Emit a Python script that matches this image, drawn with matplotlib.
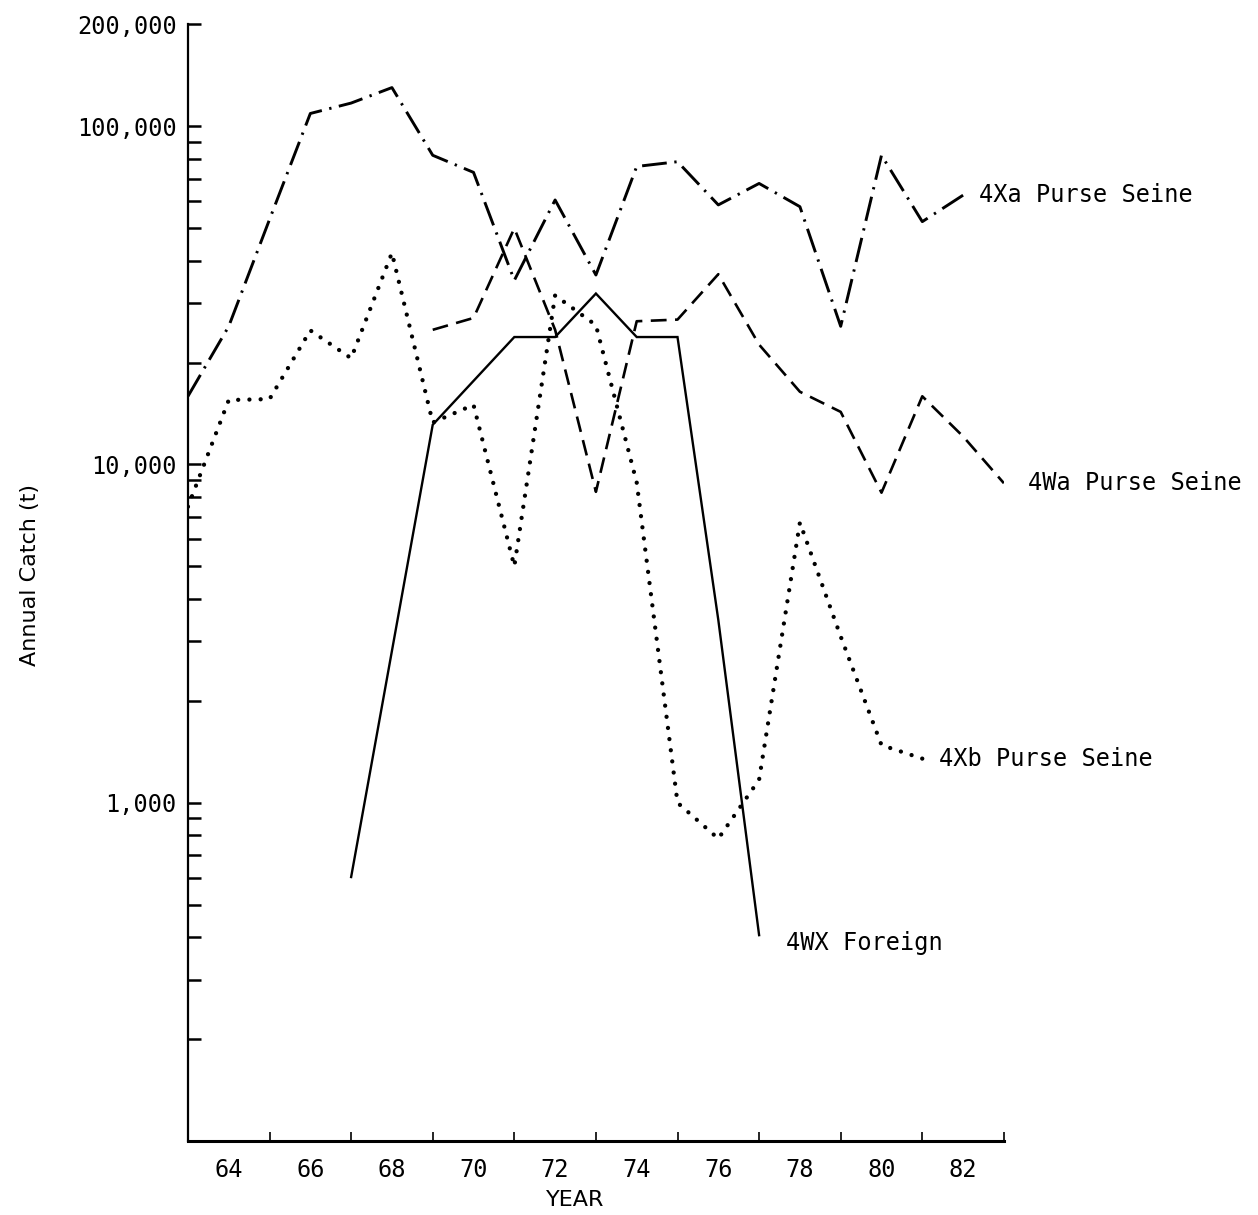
import matplotlib
matplotlib.use("Agg")
import matplotlib.pyplot as plt

# ---- data ----
years_4xa = [63, 64, 65, 66, 67, 68, 69, 70, 71, 72, 73, 74, 75, 76, 77, 78, 79, 80, 81, 82]
catch_4xa = [15900, 25600, 53000, 109000, 117000, 130000, 82000, 73000, 35000, 60500,
             36300, 76000, 78500, 58500, 67700, 57800, 25600, 82000, 52200, 62500]

years_4wa = [69, 70, 71, 72, 73, 74, 75, 76, 77, 78, 79, 80, 81, 82, 83]
catch_4wa = [25000, 27100, 49900, 25000, 8300, 26500, 26800, 36500, 22600, 16400,
             14300, 8250, 15900, 12100, 8800]

years_4xb = [63, 64, 65, 66, 67, 68, 69, 70, 71, 72, 73, 74, 75, 76, 77, 78, 79, 80, 81]
catch_4xb = [7500, 15500, 15600, 24900, 20600, 42200, 13300, 15000, 5000, 31600,
             25800, 8840, 1000, 783, 1170, 6730, 3100, 1480, 1350]

years_4wx = [67, 69, 71, 72, 73, 74, 75, 76, 77]
catch_4wx = [603, 13100, 23800, 23800, 32000, 23800, 23800, 3470, 406]

series_labels = ["4Xa Purse Seine", "4Wa Purse Seine", "4Xb Purse Seine", "4WX Foreign"]
label_pos = [(82.4, 62500), (83.6, 8800), (81.4, 1350), (77.65, 385)]

x_major = [64, 66, 68, 70, 72, 74, 76, 78, 80, 82]
x_minor = list(range(65, 84))
y_major = [1000, 10000, 100000, 200000]
y_major_labels = ["1,000", "10,000", "100,000", "200,000"]
y_minor = [200, 300, 400, 500, 600, 700, 800, 900,
           2000, 3000, 4000, 5000, 6000, 7000, 8000, 9000,
           20000, 30000, 40000, 50000, 60000, 70000, 80000, 90000]

MONO = "DejaVu Sans Mono"

fig = plt.figure(figsize=(12.58, 12.15), dpi=100)
fig.patch.set_facecolor("white")
ax = fig.add_axes([0.1494, 0.0609, 0.798 - 0.1494, 0.980 - 0.0609])
ax.set_yscale("log")
ax.set_xlim(63, 83)
ax.set_ylim(100, 200000)

ax.plot(years_4xa, catch_4xa, color="black", lw=2.1,
        linestyle=(0, (8.5, 2.6, 0.8, 2.6)))
ax.plot(years_4wa, catch_4wa, color="black", lw=1.9,
        linestyle=(0, (6, 3.2)))
ax.plot(years_4xb, catch_4xb, color="black", lw=3.1,
        linestyle=(0, (0.01, 2.6)), dash_capstyle="round")
ax.plot(years_4wx, catch_4wx, color="black", lw=1.7, solid_joinstyle="miter")

for lab, (lx, ly) in zip(series_labels, label_pos):
    ax.text(lx, ly, lab, fontsize=17, family=MONO, ha="left", va="center",
            clip_on=False)

for s in ["top", "right"]:
    ax.spines[s].set_visible(False)
ax.spines["left"].set_linewidth(1.6)
ax.spines["bottom"].set_linewidth(2.2)

ax.set_yticks(y_major)
ax.set_yticklabels(y_major_labels, family=MONO, fontsize=17)
ax.set_yticks(y_minor, minor=True)
ax.yaxis.set_minor_formatter(matplotlib.ticker.NullFormatter())
ax.tick_params(axis="y", which="both", direction="in", length=9.5, width=1.8,
               pad=8)

ax.set_xticks(x_major)
ax.set_xticklabels([str(v) for v in x_major], family=MONO, fontsize=17)
ax.set_xticks(x_minor, minor=True)
ax.tick_params(axis="x", which="major", length=0, pad=12)
ax.tick_params(axis="x", which="minor", direction="in", length=6.5, width=1.2)

fig.text(30 / 1258, 1 - 575 / 1215, "Annual Catch (t)", rotation=90,
         ha="center", va="center", fontsize=16, family="DejaVu Sans")
fig.text(575 / 1258, 1 - 1200 / 1215, "YEAR", ha="center", va="center",
         fontsize=16, family="DejaVu Sans")

fig.savefig("out.png", dpi=100, facecolor="white")
